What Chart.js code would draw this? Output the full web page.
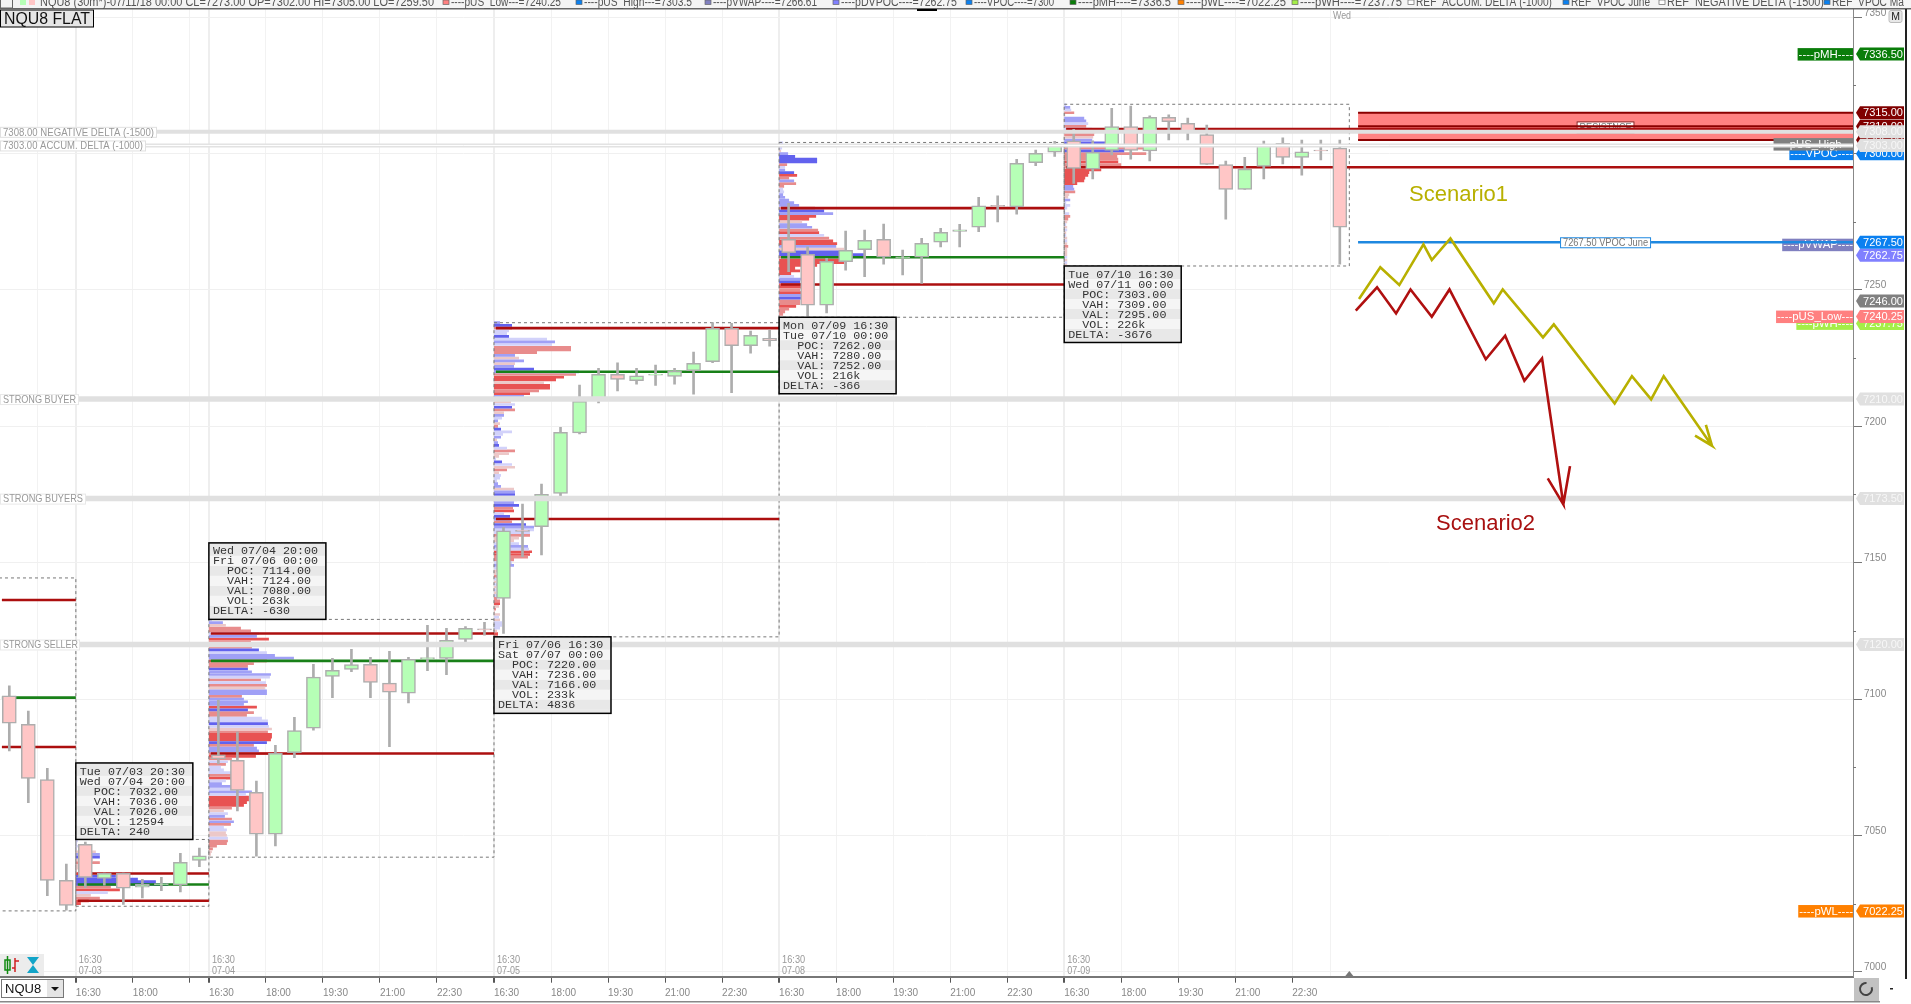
<!DOCTYPE html>
<html>
<head>
<meta charset="utf-8">
<title>NQU8 FLAT</title>
<script src="https://cdn.jsdelivr.net/npm/chart.js@4/dist/chart.umd.min.js"></script>
<style>
  html, body { margin: 0; padding: 0; background: #fff; overflow: hidden; }
  canvas { display: block; }
</style>
</head>
<body>
<canvas id="chart" width="1911" height="1004"></canvas>
<script>
// 30 min bars, x is the bar number
const opens = [7101.2,7090.7,7070.5,7033.5,7046.7,7034.2,7036.1,7031,7031.9,7031.8,7040.8,7079.5,7077.5,7065.8,7050.4,7080.3,7089.3,7108.3,7110.9,7112.7,7105.8,7102.1,7114.8,7114.9,7121.9,7125.7,7136.9,7161.9,7163.2,7175.4,7197.6,7209.9,7219.1,7216.7,7218.8,7218.3,7220.4,7223.7,7235.9,7229.6,7232.3,7268.6,7263.1,7244.4,7260.4,7264.8,7268.6,7261.8,7262,7267.5,7271.5,7273,7281,7280.5,7296.7,7300.5,7304.7,7294.3,7301.2,7309.9,7301,7313.3,7311.1,7307,7296,7286.9,7295.3,7303.8,7298.6,7301.3,7302];
const highs = [7104.8,7095.6,7074.6,7039.5,7047.5,7036.2,7036.2,7033.9,7034.6,7043.4,7045.3,7099.6,7088,7069.9,7083,7093.3,7112.7,7114.9,7118.2,7115.3,7117.5,7115.3,7127,7125.9,7126.6,7128.1,7163,7171.5,7178.8,7199.6,7215.1,7221.3,7223.3,7221.3,7222.5,7221.3,7227.2,7238,7237.8,7234.9,7235.3,7281.8,7265.8,7261.6,7271.6,7272,7274.2,7264.6,7268.9,7272.6,7274.1,7284,7284.5,7297.9,7301.3,7304.5,7308.9,7304.7,7316.6,7317.4,7313.9,7314.2,7313,7310.5,7297.3,7298.6,7304.6,7305.8,7305,7305,7305];
const lows = [7081,7062,7027.9,7022.6,7030.9,7031.7,7024.7,7027.1,7029.7,7029.3,7038.5,7076.2,7059,7042.4,7046.1,7078.5,7088.6,7100.5,7110,7100.5,7082.5,7098.6,7110.4,7108.9,7120.4,7123.4,7124.1,7152.2,7152.8,7173.7,7197.2,7208.6,7213,7215.5,7215,7215.5,7211.8,7223.3,7212.3,7226.8,7229.4,7256.7,7240.4,7241.6,7257.3,7254.9,7259.5,7255.5,7252.4,7265.8,7265.8,7271.4,7275,7277.8,7295.6,7299,7289.1,7290.7,7299.5,7298,7297.3,7305,7305,7296,7276,7286.9,7290.7,7296.2,7292.1,7297.7,7259.5];
const closes = [7091.1,7070.9,7033.5,7024.3,7034.6,7036.1,7030.6,7032,7032.3,7040.1,7042.5,7078,7066.5,7050.4,7080.1,7088.4,7108,7110.5,7112.6,7106.1,7102.5,7114.6,7115.2,7121.5,7125.9,7125.3,7161.7,7161.5,7175.1,7197.8,7209.2,7219.1,7217.2,7218.5,7219.1,7220.3,7223.1,7235.9,7229.6,7233.4,7231.4,7263.7,7244.4,7260.5,7264.5,7268.2,7262,7262.2,7267.1,7271.1,7272.1,7280.9,7280.6,7296.4,7300.1,7303.2,7294.6,7300.5,7309.9,7301.2,7313.3,7311.7,7308,7296,7286.9,7294.3,7303.2,7298.6,7300.7,7301,7273];

// sessions
const sessionStarts = [-0.49,3.5,10.5,25.5,40.5,55.5];
const sessionEnds = [3.5,10.5,25.5,40.5,55.5,70.5];
const sessionHighs = [7144.4,7048.5,7129.2,7238,7304.1,7318.1];
const sessionLows = [7022.3,7024,7042,7122.8,7240,7258.8];
const sessionPoc = [7100.5,7032,7114,7220,7262,7303];
const sessionVah = [7136.3,7036,7124,7236,7280,7309];
const sessionVal = [7082.4,7026,7080,7166,7252,7295];

// volume at price, one row per point going down from the top price
const profileSession = [1,2,3,4,5];
const profileTop = [7048,7129,7238,7304,7318];
const profileVol = [
  [2,1,2,1,20,24,24,17,24,4,4,1,17,40,62,80,92,35,44,32,15,24,13,5,1],
  [3,14,17,32,42,50,48,60,42,52,43,50,58,66,85,58,45,39,39,43,62,61,52,57,58,56,58,58,33,35,39,35,48,39,45,38,53,59,59,60,63,59,63,63,62,58,45,48,50,65,47,23,19,17,12,15,22,22,22,17,13,22,23,43,37,40,40,38,35,23,15,19,16,23,25,22,15,18,17,18,19,19,18,8,4,3,2],
  [6,18,18,15,13,15,53,61,58,77,77,43,21,25,30,21,20,40,85,82,70,62,50,56,56,45,36,30,26,17,21,18,21,10,10,8,4,6,4,7,18,9,7,3,4,5,13,21,15,5,2,8,18,21,13,5,7,6,3,4,7,20,21,21,25,23,20,25,19,20,10,16,16,18,32,40,40,36,36,25,20,25,34,35,38,36,34,20,18,20,4,3,2,3,2,2,3,2,2,2,3,3,6,6,5,2,1,6,5,6,8,8,6,3,4,4],
  [4,2,3,2,9,16,38,38,8,6,6,15,18,10,15,17,5,4,5,4,6,10,15,20,36,45,54,37,30,23,28,33,39,40,45,50,54,58,57,65,60,85,73,65,65,38,16,21,12,15,22,21,33,24,21,22,22,22,21,21,17,10,6,4],
  [2,6,7,10,1,20,22,24,22,28,31,30,29,28,41,41,80,60,82,53,54,54,57,36,37,25,24,21,20,13,9,10,11,5,4,6,2,6,3,1,5,6,4,3,2,3,3,2,2,3,3,3,4,3,3,3,3,3,3,3,2]
];
// positive = buyers (blue), negative = sellers (red)
const profileDelta = [
  [1,1,1,1,-1,2,3,-1,-2,-1,-1,-1,-3,3,3,3,3,-2,-3,1,-1,-2,-3,-3,-1],
  [1,2,-1,-2,-2,1,2,-3,-2,2,-2,3,1,2,2,-3,-2,-2,3,2,2,1,-2,1,-2,-1,2,2,-2,2,2,2,-3,3,-2,-2,1,1,3,1,-1,-2,-3,-3,-3,3,-2,2,2,-2,-3,-2,1,-2,1,1,1,-2,-3,1,2,2,1,2,1,-3,-3,-3,-3,-2,-1,1,2,-2,2,-2,1,1,-1,-1,1,-2,-2,-2,-2,-1,-1],
  [2,3,-2,1,1,3,1,2,1,-2,-2,-2,2,-1,2,-1,2,3,2,-2,-3,-3,-1,-3,-3,-2,-3,2,1,-1,1,3,-2,-1,2,1,2,-1,-2,3,1,1,2,-1,2,3,1,-2,-1,-1,1,3,1,-1,-2,-1,1,1,1,2,2,-1,2,3,1,1,2,3,-2,-3,1,3,2,-2,3,2,1,1,-2,-1,-1,1,2,1,-3,-3,-2,-2,1,2,1,-1,-1,-2,1,-1,1,-1,1,-1,1,-2,-2,-3,-1,-2,-1,-1,1,-1,1,1,1,-1,-3,-2],
  [1,1,1,-1,2,3,3,3,-2,1,2,3,-3,-2,2,-2,-2,1,1,2,2,2,2,2,-2,3,2,-3,-3,-1,2,2,-2,-3,1,-2,-3,-3,2,-1,3,3,-2,-3,-3,-3,-3,-3,-3,1,2,3,-3,-3,-2,-3,2,3,-2,-2,-3,-2,-2,-2],
  [1,2,1,-2,-1,2,2,1,-2,1,-2,-2,-1,2,3,3,-2,3,-2,-2,-2,-3,-2,-2,-3,-3,-3,-3,-3,-3,2,2,-2,-1,-1,2,1,1,1,1,1,-2,-2,-1,1,-1,1,-1,1,-1,1,-1,-2,-1,-1,-1,1,-1,1,-1,1]
];
const PROFILE_UNITS_PER_BAR = 19;
const deltaLevels = [3,2,1,-1,-2,-3];
const deltaColors = ['#6262ee','#a0a0f6','#d2d2fa','#ecc8c8','#e88c8c','#e85252'];

// session info boxes
const statSession = [1,2,3,4,5];
const statAbove = [true,true,false,false,false];
const statFrom = ['Tue 07/03 20:30','Wed 07/04 20:00','Fri 07/06 16:30','Mon 07/09 16:30','Tue 07/10 16:30'];
const statTo = ['Wed 07/04 20:00','Fri 07/06 00:00','Sat 07/07 00:00','Tue 07/10 00:00','Wed 07/11 00:00'];
const statVol = ['12594','263k','233k','216k','226k'];
const statDelta = ['240','-630','4836','-366','-3676'];

// horizontal reference levels
const refLevels = [7308,7210,7173.5,7120];
const refThin = 7303;
const vpocJune = 7267.5;
const zoneTop = 7315, zoneMid = 7310, zoneBottom = 7305;
const drawingStart = 70.96;
const lastBarSlot = 97;

// drawn scenarios, in bars and price
const scenario1Bars = [71.01,72.13,73.13,74.4,74.84,75.82,78.1,78.57,80.69,81.26,84.46,85.37,86.38,87.04,89.58,88.69,89.58,89.26];
const scenario1Prices = [7246.7,7258.3,7251.8,7266.7,7261,7268.9,7245.1,7250.2,7232.6,7237.4,7208.4,7218.4,7209.9,7218.4,7192.9,7196.6,7192.9,7200.5];
const scenario2Bars = [70.84,71.96,72.96,73.72,74.84,75.77,77.68,78.7,79.71,80.64,81.76,80.94,81.76,82.11];
const scenario2Prices = [7242.4,7251,7241.4,7250.2,7240.2,7250.2,7224.6,7233.2,7216.7,7224.9,7171.4,7180.9,7171.4,7185.4];

// axes
const yTicks = [7000,7050,7100,7150,7200,7250,7300,7350];
const yMinorTicks = [7025,7075,7125,7175,7225,7275,7325];
const xTicks = [1.5,3.5,6.5,9.5,10.5,13.5,16.5,19.5,22.5,25.5,28.5,31.5,34.5,37.5,40.5,43.5,46.5,49.5,52.5,55.5,58.5,61.5,64.5,67.5,69.5];
const xTickLabels = ['','16:30','18:00','','16:30','18:00','19:30','21:00','22:30','16:30','18:00','19:30','21:00','22:30','16:30','18:00','19:30','21:00','22:30','16:30','18:00','19:30','21:00','22:30',''];
const sessionDateBars = [3.5,10.5,25.5,40.5,55.5];
const sessionDates = ['07-03','07-04','07-05','07-08','07-09'];

// right hand price flags, painted in this order
const flagValues = [7237.75,7240.25,7246,7262.75,7267.5,7305,7310,7315,7300,7303,7308,7336.5,7210,7173.5,7120,7022.25];
const flagColors = ['#a4ee48','#ff8080','#808080','#8080ff','#0a80f0','#800000','#800000','#800000','#0a80f0','#e0e0e0','#e0e0e0','#0a7d0a','#e0e0e0','#e0e0e0','#e0e0e0','#ff8000'];
// names on the left of the axis
const tagValues = [7237.75,7240.25,7266.61,7300,7303.5,7336.5,7022.25];
const tagNames = ['----pWH----','----pUS_Low---','----pVWAP----','----VPOC----','----pUS_High---','----pMH----','----pWL----'];
const tagColors = ['#a4ee48','#ff8080','#8080c0','#0a80f0','#808080','#0a7d0a','#ff8000'];

const headerNames = ['NQU8 (30m*)-07/11/18 00:00 CL=7273.00 OP=7302.00 HI=7305.00 LO=7259.50','----pUS_Low---=7240.25','----pUS_High---=7303.5','----pVWAP----=7266.61','----pDVPOC----=7262.75','----VPOC----=7300','----pMH----=7336.5','----pWL----=7022.25','----pWH----=7237.75','REF  ACCUM. DELTA (-1000)','REF  VPOC June','REF  NEGATIVE DELTA (-1500)','REF  VPOC Ma'];
const headerX = [40,451,584,713,841,974,1078,1186,1300,1416,1571,1667,1832];
const headerW = [394,110,108,104,116,80,93,100,102,136,79,157,72];
const headerSwatch = [null,'#ff8080','#0a80f0','#8080c0','#8080ff','#0a80f0','#0a7d0a','#ff8000','#a4ee48','#fff','#0a80f0','#fff','#0a80f0'];

const FONT = '"Liberation Sans", Arial, sans-serif';
const MONO = '"Liberation Mono", "DejaVu Sans Mono", monospace';

function pts(xs, ys) {
  return xs.map((x, i) => ({x: x, y: ys[i]}));
}

function lineSet(label, points, color, width, order, extra) {
  return Object.assign({
    type: 'line', label: label, data: points, borderColor: color, borderWidth: width,
    pointRadius: 0, tension: 0, fill: false, order: order, spanGaps: false
  }, extra || {});
}

const datasets = [];

// resistance zone
datasets.push(lineSet('zone', pts([drawingStart, lastBarSlot], [zoneTop, zoneTop]), '#8a0000', 2, 100,
  {fill: {value: zoneBottom}, backgroundColor: '#ff8282'}));
datasets.push(lineSet('zoneMid', pts([drawingStart, lastBarSlot], [zoneMid, zoneMid]), '#8a0000', 2, 99));
datasets.push(lineSet('zoneBottom', pts([drawingStart, lastBarSlot], [zoneBottom, zoneBottom]), '#8a0000', 2, 99));

// volume profile, one line set per colour with gaps between the rows
deltaLevels.forEach(function(level, k) {
  const points = [];
  profileVol.forEach(function(rows, s) {
    const base = sessionStarts[profileSession[s]];
    rows.forEach(function(vol, r) {
      if (profileDelta[s][r] !== level) return;
      const price = profileTop[s] - r;
      points.push({x: base, y: price});
      points.push({x: base + vol / PROFILE_UNITS_PER_BAR, y: price});
      points.push({x: base, y: NaN});
    });
  });
  datasets.push(lineSet('profile' + level, points, deltaColors[k], 2.7, 90));
});

// session boxes, the first one starts off screen so it has no left edge
sessionStarts.forEach(function(start, s) {
  const end = sessionEnds[s], hi = sessionHighs[s], lo = sessionLows[s];
  const from = s === 0 ? start - 1 : start;
  datasets.push(lineSet('box' + s, pts([from, end, end, from, from], [hi, hi, lo, lo, hi]), '#777', 1, 80, {borderDash: [3, 3]}));
});

// POC / VAH / VAL, the last session runs on to the axis
sessionStarts.forEach(function(start, s) {
  const from = start + 0.1;
  const farEnd = s === sessionStarts.length - 1 ? lastBarSlot : sessionEnds[s];
  datasets.push(lineSet('vah' + s, pts([from, farEnd], [sessionVah[s], sessionVah[s]]), '#ac0f0f', 2.6, 70));
  datasets.push(lineSet('val' + s, pts([from, farEnd], [sessionVal[s], sessionVal[s]]), '#ac0f0f', 2.6, 70));
  datasets.push(lineSet('poc' + s, pts([from, sessionEnds[s]], [sessionPoc[s], sessionPoc[s]]), '#188018', 2.6, 70));
});

// candles
const barIdx = opens.map((o, i) => i);
datasets.push({
  type: 'bar', label: 'wicks', order: 60, grouped: false, barThickness: 2,
  data: barIdx.map(i => ({x: i, y: [lows[i], highs[i]]})),
  backgroundColor: '#adadad', borderWidth: 0
});
datasets.push({
  type: 'bar', label: 'bodies', order: 50, grouped: false, barThickness: 14,
  data: barIdx.map(i => ({x: i, y: [opens[i], closes[i]]})),
  backgroundColor: barIdx.map(i => closes[i] > opens[i] ? '#b6ffb6' : '#ffc6c6'),
  borderColor: '#adadad', borderWidth: 1.5, borderSkipped: false
});

// grey reference levels sit above the candles
refLevels.forEach(function(v, i) {
  datasets.push(lineSet('ref' + i, pts([sessionStarts[0], lastBarSlot], [v, v]), '#e0e0e0', i === 0 ? 4 : 5.5, 40));
});
datasets.push(lineSet('refThin', pts([sessionStarts[0], lastBarSlot], [refThin, refThin]), '#e2e2e2', 4, 40));
datasets.push(lineSet('refThinGap', pts([sessionStarts[0], lastBarSlot], [refThin, refThin]), '#ffffff', 1, 39));

datasets.push(lineSet('vpocJune', pts([drawingStart, lastBarSlot], [vpocJune, vpocJune]), '#1e88e0', 2.4, 30));
datasets.push(lineSet('scenario1', pts(scenario1Bars, scenario1Prices), '#b8b000', 2.6, 20));
datasets.push(lineSet('scenario2', pts(scenario2Bars, scenario2Prices), '#b01010', 2.6, 20));

function textBox(ctx, text, x, y, w, h, bg, border, color, font, maxW) {
  ctx.fillStyle = bg;
  ctx.fillRect(x, y, w, h);
  if (border) {
    ctx.strokeStyle = border;
    ctx.lineWidth = 1;
    ctx.strokeRect(x + 0.5, y + 0.5, w - 1, h - 1);
  }
  ctx.fillStyle = color;
  ctx.font = font;
  ctx.textAlign = 'left';
  ctx.textBaseline = 'middle';
  ctx.fillText(text, x + 3, y + h / 2 + 0.5, maxW);
}

function drawTags(chart) {
  const ctx = chart.ctx, yS = chart.scales.y, right = chart.chartArea.right;
  ctx.save();
  ctx.font = '11.4px ' + FONT;
  ctx.textBaseline = 'middle';
  ctx.textAlign = 'right';
  tagValues.forEach(function(v, i) {
    const y = yS.getPixelForValue(v), w = ctx.measureText(tagNames[i]).width;
    ctx.fillStyle = tagColors[i];
    ctx.fillRect(right - w - 1, y - 6, w + 1, 12.5);
    ctx.fillStyle = '#fff';
    ctx.fillText(tagNames[i], right, y + 0.5);
  });
  // zone caption, the red line covers its lower half
  const cx = chart.scales.x.getPixelForValue((drawingStart + lastBarSlot) / 2);
  const cy = yS.getPixelForValue(zoneMid);
  textBox(ctx, 'RESISTNCE', cx - 29, cy - 5, 58, 12, '#fff', '#8a0000', '#777', '10.5px ' + FONT, 52);
  ctx.restore();
}

function drawStats(chart) {
  const ctx = chart.ctx, xS = chart.scales.x, yS = chart.scales.y;
  ctx.save();
  statSession.forEach(function(s, i) {
    const x = xS.getPixelForValue(sessionStarts[s]);
    const edge = statAbove[i] ? yS.getPixelForValue(sessionHighs[s]) : yS.getPixelForValue(sessionLows[s]);
    const top = statAbove[i] ? edge - 76.5 : edge;
    const lines = [statFrom[i], statTo[i],
      '  POC: ' + sessionPoc[s].toFixed(2), '  VAH: ' + sessionVah[s].toFixed(2), '  VAL: ' + sessionVal[s].toFixed(2),
      '  VOL: ' + statVol[i], 'DELTA: ' + statDelta[i]];
    lines.forEach(function(t, r) {
      ctx.fillStyle = r % 2 === 0 ? '#e8e8e8' : '#f5f5f5';
      ctx.fillRect(x, top + 3 + r * 10, 117, 10);
      ctx.fillStyle = '#333';
      ctx.font = '11.7px ' + MONO;
      ctx.textAlign = 'left';
      ctx.textBaseline = 'middle';
      ctx.fillText(t, x + 4, top + 8.5 + r * 10);
    });
    ctx.fillStyle = '#e8e8e8';
    ctx.fillRect(x, top, 117, 3);
    ctx.fillRect(x, top + 73, 117, 3);
    ctx.strokeStyle = '#000';
    ctx.lineWidth = 1.5;
    ctx.strokeRect(x, top, 117, 76.5);
  });
  ctx.restore();
}

function drawOverlays(chart) {
  const ctx = chart.ctx, xS = chart.scales.x, yS = chart.scales.y;
  ctx.save();
  // left captions of the reference levels
  const f = '10.5px ' + FONT;
  textBox(ctx, '7308.00 NEGATIVE DELTA (-1500)', 0, yS.getPixelForValue(7308) - 5, 157, 11, '#fff', '#e0e0e0', '#999', f, 151);
  textBox(ctx, '7303.00 ACCUM. DELTA (-1000)', 0, yS.getPixelForValue(7303) - 5, 146, 11, '#fff', '#e0e0e0', '#999', f, 140);
  textBox(ctx, 'STRONG BUYER', 0, yS.getPixelForValue(7210) - 5, 79, 11, '#fff', '#e8e8e8', '#999', f, 73);
  textBox(ctx, 'STRONG BUYERS', 0, yS.getPixelForValue(7173.5) - 5, 86, 11, '#fff', '#e8e8e8', '#999', f, 80);
  textBox(ctx, 'STRONG SELLER', 0, yS.getPixelForValue(7120) - 5, 80, 11, '#fff', '#e8e8e8', '#999', f, 75);

  textBox(ctx, '7267.50 VPOC June', xS.getPixelForValue(drawingStart) + 202, yS.getPixelForValue(vpocJune) - 5, 91, 11, '#fff', '#1e88e0', '#777', '10.5px ' + FONT, 85);

  drawStats(chart);

  ctx.fillStyle = '#b8b000';
  ctx.font = '22px ' + FONT;
  ctx.textAlign = 'left';
  ctx.textBaseline = 'middle';
  ctx.fillText('Scenario1', 1409, 195);
  ctx.fillStyle = '#a81010';
  ctx.fillText('Scenario2', 1436, 524);

  // title
  ctx.fillStyle = '#e6e6e6';
  ctx.fillRect(0.5, 10, 93, 17);
  ctx.strokeStyle = '#000';
  ctx.lineWidth = 1;
  ctx.strokeRect(0.5, 10, 93, 17);
  ctx.fillStyle = '#111';
  ctx.font = '17px ' + FONT;
  ctx.fillText('NQU8 FLAT', 4, 19, 86);

  // session stamps at the foot of the plot
  ctx.font = '11px ' + FONT;
  sessionDateBars.forEach(function(n, i) {
    const x = xS.getPixelForValue(n) + 3;
    ctx.fillStyle = '#999';
    ctx.fillText('16:30', x, 960, 23);
    ctx.fillText(sessionDates[i], x, 971, 23);
  });
  ctx.fillStyle = '#999';
  ctx.fillText('Wed', 1333, 16, 18);
  ctx.restore();
}

function drawChrome(chart) {
  const ctx = chart.ctx, yS = chart.scales.y, xS = chart.scales.x, right = chart.chartArea.right;
  ctx.save();
  // minor ticks on the price axis
  ctx.strokeStyle = '#777';
  ctx.lineWidth = 1;
  yMinorTicks.forEach(function(v) {
    const y = Math.round(yS.getPixelForValue(v)) + 0.5;
    ctx.beginPath(); ctx.moveTo(right, y); ctx.lineTo(right + 3, y); ctx.stroke();
  });

  // price flags
  ctx.font = '11.5px ' + FONT;
  ctx.textAlign = 'left';
  ctx.textBaseline = 'middle';
  flagValues.forEach(function(v, i) {
    const y = yS.getPixelForValue(v);
    ctx.fillStyle = flagColors[i];
    ctx.beginPath();
    ctx.moveTo(right + 3, y);
    ctx.lineTo(right + 7, y - 6.5);
    ctx.lineTo(1904, y - 6.5);
    ctx.lineTo(1904, y + 6.5);
    ctx.lineTo(right + 7, y + 6.5);
    ctx.closePath();
    ctx.fill();
    ctx.fillStyle = flagColors[i] === '#e0e0e0' ? '#f7f7f7' : '#fff';
    ctx.fillText(v.toFixed(2), right + 10, y + 0.5, 40);
  });

  // header strip
  ctx.fillStyle = '#f4f4f4';
  ctx.fillRect(0, 0, 1911, 8);
  ctx.fillStyle = '#666';
  ctx.fillRect(0, 8, 1911, 1.5);
  ctx.strokeStyle = '#666';
  ctx.strokeRect(0.5, -4, 12, 12);
  ctx.fillStyle = '#b6ffb6'; ctx.fillRect(20, 0, 6, 5);
  ctx.fillStyle = '#ffc6c6'; ctx.fillRect(29, 0, 6, 5);
  ctx.font = '12px ' + FONT;
  headerNames.forEach(function(t, i) {
    if (headerSwatch[i]) {
      ctx.fillStyle = headerSwatch[i];
      ctx.fillRect(headerX[i] - 8, 0, 6, 4.5);
      ctx.strokeStyle = '#666';
      ctx.lineWidth = 0.7;
      ctx.strokeRect(headerX[i] - 8, 0, 6, 4.5);
    }
    ctx.fillStyle = '#555';
    ctx.textBaseline = 'alphabetic';
    ctx.fillText(t, headerX[i], 6, headerW[i]);
  });
  ctx.fillStyle = '#000';
  ctx.fillRect(917, 9, 20, 2);

  // M button
  ctx.fillStyle = '#e8e8e8';
  ctx.strokeStyle = '#bbb';
  ctx.lineWidth = 1;
  ctx.beginPath();
  ctx.roundRect(1889, 10.5, 13, 12, 2);
  ctx.fill();
  ctx.stroke();
  ctx.fillStyle = '#222';
  ctx.font = '10.5px ' + FONT;
  ctx.textAlign = 'center';
  ctx.textBaseline = 'middle';
  ctx.fillText('M', 1895.5, 17);

  // bar-type icons
  ctx.fillStyle = '#ececec';
  ctx.fillRect(0, 954, 44, 22);
  ctx.strokeStyle = '#108a10';
  ctx.lineWidth = 1.5;
  ctx.strokeRect(5, 960, 5, 10);
  ctx.beginPath(); ctx.moveTo(7.5, 956); ctx.lineTo(7.5, 974); ctx.stroke();
  ctx.strokeStyle = '#d02020';
  ctx.beginPath(); ctx.moveTo(15, 958); ctx.lineTo(15, 972); ctx.moveTo(15, 961); ctx.lineTo(19, 961); ctx.moveTo(15, 968); ctx.lineTo(12, 968); ctx.stroke();
  ctx.fillStyle = '#12a4c8';
  ctx.beginPath();
  ctx.moveTo(27, 957); ctx.lineTo(39, 957); ctx.lineTo(33, 965); ctx.lineTo(39, 973); ctx.lineTo(27, 973); ctx.lineTo(33, 965);
  ctx.closePath();
  ctx.fill();

  // marker on the time axis
  const mx = xS.getPixelForValue(70.5);
  ctx.fillStyle = '#777';
  ctx.beginPath(); ctx.moveTo(mx - 4, 976); ctx.lineTo(mx, 971); ctx.lineTo(mx + 4, 976); ctx.fill();

  // symbol box
  ctx.fillStyle = '#fff';
  ctx.strokeStyle = '#777';
  ctx.lineWidth = 1;
  ctx.strokeRect(1.5, 979.5, 62, 18);
  ctx.fillStyle = '#e4e4e4';
  ctx.fillRect(47, 980, 16, 17);
  ctx.fillStyle = '#111';
  ctx.font = '13px ' + FONT;
  ctx.textAlign = 'left';
  ctx.fillText('NQU8', 5, 989);
  ctx.beginPath(); ctx.moveTo(51, 987); ctx.lineTo(59, 987); ctx.lineTo(55, 991); ctx.fill();

  // reset button
  ctx.fillStyle = '#c2c2c2';
  ctx.fillRect(1854, 978, 25, 23);
  ctx.strokeStyle = '#444';
  ctx.lineWidth = 2;
  ctx.beginPath(); ctx.arc(1866, 989, 6, -0.3, 4.8); ctx.stroke();
  ctx.fillStyle = '#222';
  ctx.fillRect(1890, 988, 3, 1.5);

  // edges of the window
  ctx.fillStyle = '#888';
  ctx.fillRect(0, 1001, 1880, 1.5);
  ctx.fillStyle = '#222';
  ctx.fillRect(1905, 9, 2, 970);
  ctx.restore();
}

const overlayPlugin = {
  id: 'overlay',
  afterDatasetDraw: function(chart, args) {
    if (args.meta.label === 'zoneBottom') drawTags(chart);
  },
  afterDatasetsDraw: drawOverlays,
  afterDraw: drawChrome
};

const ctx = document.getElementById('chart').getContext('2d');

new Chart(ctx, {
  type: 'line',
  data: {datasets: datasets},
  plugins: [overlayPlugin],
  options: {
    responsive: false,
    animation: false,
    events: [],
    layout: {padding: {top: 9, left: 0, right: 0, bottom: 0}},
    plugins: {legend: {display: false}, tooltip: {enabled: false}, title: {display: false}},
    scales: {
      x: {
        type: 'linear', offset: false, min: sessionStarts[0], max: lastBarSlot,
        afterBuildTicks: function(s) { s.ticks = xTicks.map(v => ({value: v})); },
        afterFit: function(s) { s.height = 27.3; s.paddingLeft = 0; s.paddingRight = 0; },
        grid: {
          offset: false,
          color: function(c) { return sessionDateBars.includes(c.tick && c.tick.value) ? '#eeeeee' : '#f2f2f2'; },
          lineWidth: function(c) { return sessionDateBars.includes(c.tick && c.tick.value) ? 2 : 1; },
          tickColor: function(c) { return (c.tick && (c.tick.value === 1.5 || c.tick.value === 69.5)) ? 'rgba(0,0,0,0)' : '#555'; },
          tickLength: 6
        },
        border: {color: '#777', width: 2},
        ticks: {
          autoSkip: false, maxRotation: 0, minRotation: 0, align: 'start', padding: 5, color: '#888',
          font: {family: FONT, size: 10},
          callback: function(v) { const i = xTicks.indexOf(v); return i < 0 ? '' : xTickLabels[i]; }
        }
      },
      y: {
        type: 'linear', position: 'right', min: 6998.17, max: 7353.04,
        afterBuildTicks: function(s) { s.ticks = yTicks.map(v => ({value: v})); },
        afterFit: function(s) { s.width = 58; s.paddingTop = 0; s.paddingBottom = 0; },
        grid: {color: '#f0f0f0', lineWidth: 1, tickColor: '#777', tickLength: 9},
        border: {color: '#888', width: 1},
        ticks: {
          autoSkip: false, padding: 2, color: '#888',
          font: {family: FONT, size: 10, lineHeight: '9px'},
          callback: function(v) { return [String(v), '']; }
        }
      }
    }
  }
});
</script>
</body>
</html>
